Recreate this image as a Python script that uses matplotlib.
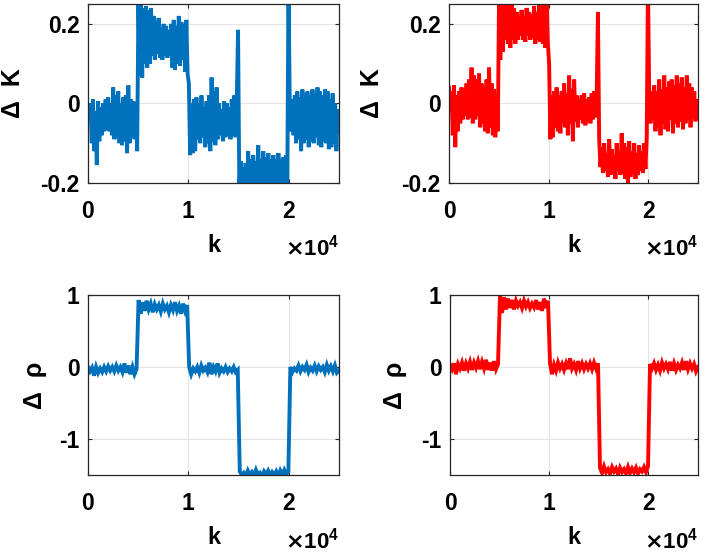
import numpy as np
import matplotlib
matplotlib.use("Agg")
import matplotlib.pyplot as plt

plt.rcParams['font.family'] = ['Liberation Sans', 'DejaVu Sans']
plt.rcParams['font.weight'] = 'bold'

# upper/lower edges of the noise band alternate
dK_blue = [
    -0.01, -0.04, 0.0, -0.10, 0.01, -0.12, -0.02, -0.155, 0.005, -0.095,
    -0.01, -0.08, 0.0, -0.07, 0.01, -0.065, 0.015, -0.07, 0.0, -0.08,
    0.04, -0.09, 0.02, -0.085, 0.03, -0.1, 0.0, -0.105, 0.015, -0.095,
    0.02, -0.125, 0.045, -0.1, 0.01, -0.085, 0.005, -0.09, -0.005, -0.12,
    0.25, 0.07, 0.26, 0.065, 0.24, 0.10, 0.245, 0.09, 0.235, 0.10,
    0.24, 0.12, 0.22, 0.11, 0.205, 0.125, 0.215, 0.115, 0.19, 0.11,
    0.2, 0.12, 0.195, 0.115, 0.185, 0.12, 0.2, 0.09, 0.21, 0.085,
    0.195, 0.10, 0.22, 0.095, 0.205, 0.11, 0.2, 0.08, 0.21, 0.075,
    0.05, -0.13, 0.0, -0.125, 0.01, -0.12, 0.015, -0.09, 0.0, -0.1,
    0.02, -0.085, -0.01, -0.11, 0.005, -0.1, 0.02, -0.12, 0.065, -0.095,
    0.03, -0.105, 0.04, -0.09, 0.0, -0.08, -0.015, -0.095, 0.005, -0.085,
    0.0, -0.08, -0.01, -0.09, 0.01, -0.08, 0.02, -0.085, 0.01, 0.185,
    -0.21, -0.145, -0.22, -0.16, -0.21, -0.15, -0.22, -0.12, -0.21, -0.14,
    -0.215, -0.13, -0.22, -0.145, -0.21, -0.105, -0.22, -0.14, -0.21, -0.12,
    -0.215, -0.135, -0.21, -0.125, -0.22, -0.14, -0.21, -0.13, -0.215, -0.14,
    -0.21, -0.125, -0.22, -0.14, -0.21, -0.135, -0.215, -0.13, -0.21, 0.30,
    0.0, -0.07, 0.01, -0.08, 0.02, -0.1, 0.03, -0.09, 0.015, -0.12,
    0.035, -0.1, 0.025, -0.09, 0.03, -0.11, 0.02, -0.095, 0.035, -0.1,
    0.025, -0.085, 0.04, -0.105, 0.03, -0.11, 0.02, -0.095, 0.035, -0.1,
    0.03, -0.115, 0.01, -0.11, 0.025, -0.1, 0.0, -0.12, -0.015, -0.07,
]

dK_red = [
    0.04, -0.02, 0.03, -0.08, 0.045, -0.11, 0.02, -0.07, 0.03, -0.05,
    0.04, -0.04, 0.035, -0.03, 0.05, -0.04, 0.06, -0.035, 0.09, -0.05,
    0.07, -0.04, 0.06, -0.03, 0.075, -0.06, 0.05, -0.05, 0.04, -0.07,
    0.06, -0.075, 0.09, -0.06, 0.05, -0.08, 0.035, -0.085, 0.02, -0.07,
    0.27, 0.11, 0.28, 0.13, 0.27, 0.16, 0.26, 0.15, 0.27, 0.14,
    0.25, 0.16, 0.24, 0.15, 0.23, 0.16, 0.22, 0.17, 0.235, 0.16,
    0.22, 0.155, 0.24, 0.17, 0.23, 0.16, 0.225, 0.165, 0.245, 0.15,
    0.23, 0.16, 0.25, 0.155, 0.26, 0.15, 0.27, 0.14, 0.26, 0.15,
    0.1, -0.09, 0.02, -0.085, 0.03, -0.06, 0.04, -0.07, 0.02, -0.075,
    0.03, -0.05, 0.05, -0.06, 0.025, -0.08, 0.07, -0.05, 0.035, -0.095,
    0.06, -0.045, 0.02, -0.06, 0.01, -0.04, 0.02, -0.05, 0.025, -0.055,
    0.01, -0.045, 0.015, -0.05, 0.025, -0.04, 0.03, -0.035, 0.02, 0.23,
    -0.09, -0.16, -0.11, -0.175, -0.1, -0.17, -0.125, -0.185, -0.09, -0.18,
    -0.115, -0.175, -0.13, -0.19, -0.1, -0.17, -0.12, -0.18, -0.075, -0.175,
    -0.1, -0.19, -0.11, -0.2, -0.095, -0.185, -0.12, -0.175, -0.1, -0.19,
    -0.125, -0.18, -0.105, -0.17, -0.12, -0.175, -0.1, -0.165, -0.085, 0.30,
    0.02, -0.05, 0.03, -0.04, 0.045, -0.07, 0.03, -0.06, 0.06, -0.08,
    0.035, -0.05, 0.07, -0.065, 0.04, -0.07, 0.055, -0.04, 0.06, -0.075,
    0.045, -0.05, 0.07, -0.06, 0.05, -0.045, 0.065, -0.065, 0.04, -0.05,
    0.07, -0.04, 0.05, -0.06, 0.04, -0.035, 0.03, -0.045, 0.01, -0.03,
]

drho_blue = [
    0.0, -0.06, -0.01, -0.12, 0.0, -0.08, -0.02, -0.07, 0.0, -0.06,
    0.01, -0.05, 0.0, -0.06, 0.02, -0.05, 0.0, -0.07, 0.05, -0.08,
    0.02, -0.1, 0.0, -0.1, -0.03,
    0.93, 0.74, 0.9, 0.78, 0.92, 0.8, 0.88, 0.76, 0.87, 0.8,
    0.86, 0.77, 0.88, 0.8, 0.85, 0.76, 0.86, 0.79, 0.9, 0.78,
    0.85, 0.74, 0.88, 0.78, 0.86,
    0.0, -0.1, -0.02, -0.06, 0.0, -0.08, 0.02, -0.05, -0.01, -0.07,
    0.06, -0.1, 0.0, -0.06, 0.05, -0.08, -0.02, -0.06, 0.0, -0.07,
    -0.02, -0.06, 0.0, -0.07, -0.04,
    -1.45, -1.5, -1.47, -1.52, -1.44, -1.5, -1.46, -1.51, -1.43, -1.5,
    -1.47, -1.52, -1.45, -1.49, -1.44, -1.51, -1.46, -1.5, -1.45, -1.52,
    -1.44, -1.5, -1.43, -1.49, -1.45,
    0.0, -0.07, -0.02, -0.05, 0.02, -0.06, 0.0, -0.04, 0.03, -0.07,
    -0.01, -0.05, 0.02, -0.06, 0.01, -0.04, 0.0, -0.07, 0.03, -0.05,
    0.01, -0.06, 0.02, -0.08, -0.05,
]

drho_red = [
    0.03, -0.03, 0.05, -0.1, 0.04, -0.02, 0.06, -0.05, 0.05, -0.02,
    0.07, -0.04, 0.06, -0.01, 0.08, -0.03, 0.07, -0.02, 0.1, -0.04,
    0.06, -0.05, 0.08, -0.03, 0.04,
    1.0, 0.75, 0.97, 0.8, 0.95, 0.82, 0.93, 0.8, 0.92, 0.85,
    0.9, 0.82, 0.92, 0.84, 0.9, 0.82, 0.88, 0.83, 0.93, 0.8,
    0.9, 0.78, 0.95, 0.82, 0.92,
    0.05, -0.1, 0.03, -0.05, 0.06, -0.02, 0.04, -0.04, 0.05, -0.03,
    0.12, -0.02, 0.04, -0.04, 0.08, -0.02, 0.05, -0.03, 0.04, -0.02,
    0.05, -0.03, 0.06, -0.02, 0.05,
    -1.4, -1.47, -1.38, -1.46, -1.42, -1.48, -1.39, -1.45, -1.41, -1.49,
    -1.4, -1.46, -1.42, -1.48, -1.39, -1.47, -1.41, -1.46, -1.4, -1.48,
    -1.42, -1.45, -1.39, -1.46, -1.38,
    0.04, -0.02, 0.05, -0.04, 0.03, -0.05, 0.06, -0.02, 0.04, -0.03,
    0.07, -0.05, 0.05, -0.04, 0.03, -0.02, 0.06, -0.04, 0.08, -0.03,
    0.05, -0.02, 0.04, -0.06, 0.0,
]

k_max = 25000
x_ticks = [0, 10000, 20000]
x_ticklabels = ['0', '1', '2']
dK_ticks = [-0.2, 0, 0.2]
dK_ticklabels = ['-0.2', '0', '0.2']
drho_ticks = [-1, 0, 1]
drho_ticklabels = ['-1', '0', '1']

blue = '#0072BD'
red = '#FF0000'


def panel(rect, y, color, ylim, yt, ytl, ylab, ylab_x):
    ax = fig.add_axes(rect)
    k = np.linspace(0, k_max, len(y))
    ax.plot(k, y, '-', color=color, lw=2.8, solid_joinstyle='miter')
    ax.set_xlim(0, k_max)
    ax.set_ylim(*ylim)
    ax.set_xticks(x_ticks)
    ax.set_xticklabels(x_ticklabels)
    ax.set_yticks(yt)
    ax.set_yticklabels(ytl)
    ax.grid(True, color='#e3e3e3', lw=0.8)
    ax.set_axisbelow(True)
    for s in ax.spines.values():
        s.set_color('#262626')
        s.set_linewidth(0.9)
    ax.tick_params(direction='in', top=True, right=True, length=3,
                   width=0.8, color='#262626', labelsize=16.5)
    ax.tick_params(axis='x', pad=12)
    ax.tick_params(axis='y', pad=6)
    for t in ax.get_xticklabels() + ax.get_yticklabels():
        t.set_fontweight('bold')
    ax.set_xlabel('k', fontsize=17, fontweight='bold', va='center')
    ax.xaxis.set_label_coords(0.5, -0.35)
    ax.set_ylabel(ylab, fontsize=18, fontweight='bold', va='center')
    ax.yaxis.set_label_coords(ylab_x, 0.5)
    ax.text(1.0, -0.435, r'$\times\mathregular{10^{4}}$', transform=ax.transAxes,
            ha='right', va='bottom', fontsize=16)
    return ax


fig = plt.figure(figsize=(7.06, 5.54), dpi=100)

panel([0.1246, 0.6697, 0.3555, 0.3231], dK_blue, blue, (-0.2, 0.25),
      dK_ticks, dK_ticklabels, 'Δ  K', -0.30)
panel([0.6360, 0.6697, 0.3527, 0.3231], dK_red, red, (-0.2, 0.25),
      dK_ticks, dK_ticklabels, 'Δ  K', -0.31)
panel([0.1246, 0.1426, 0.3555, 0.3249], drho_blue, blue, (-1.5, 1),
      drho_ticks, drho_ticklabels, 'Δ  ρ', -0.21)
panel([0.6374, 0.1426, 0.3513, 0.3249], drho_red, red, (-1.5, 1),
      drho_ticks, drho_ticklabels, 'Δ  ρ', -0.22)

fig.savefig('out.png', dpi=100)
